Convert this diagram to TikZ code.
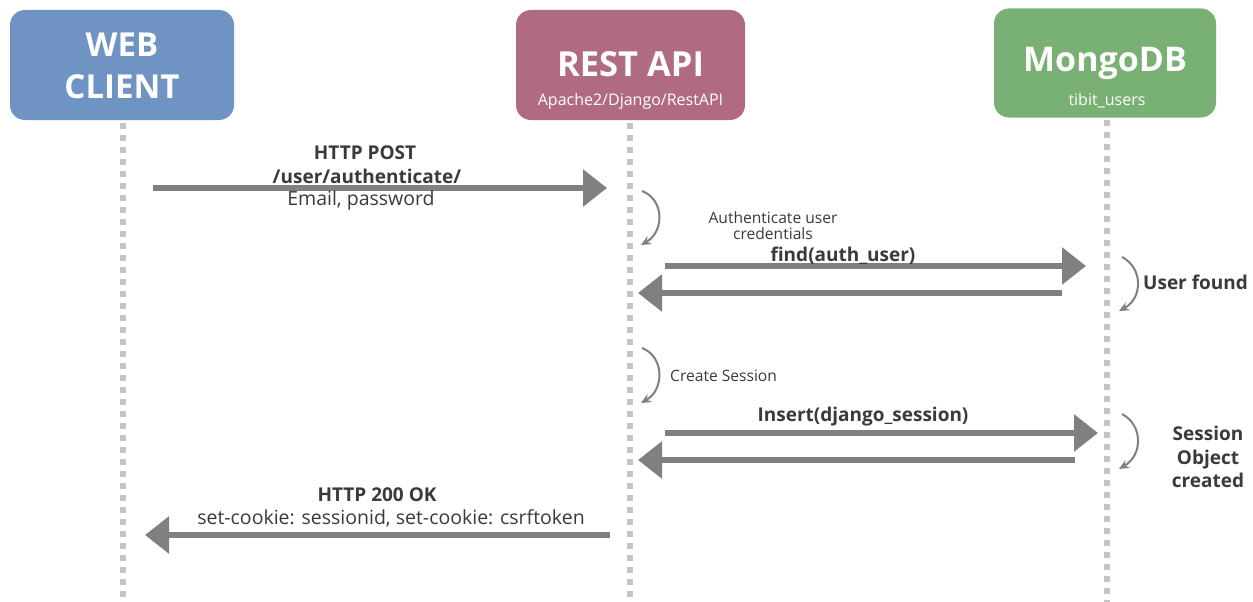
\documentclass[tikz,border=0pt]{standalone}
\usepackage{fontspec}
\setmainfont{Open Sans}
\usetikzlibrary{arrows.meta}
\definecolor{webblue}{HTML}{6F93C3}
\definecolor{restred}{HTML}{B06B83}
\definecolor{mongogreen}{HTML}{79B073}
\definecolor{arrowgray}{HTML}{808080}
\definecolor{linegray}{HTML}{C4C4C4}
\definecolor{textgray}{HTML}{3A3A3A}
\begin{document}
\begin{tikzpicture}[x=1pt,y=-1pt,
 actor/.style={rounded corners=15pt, minimum width=224pt, minimum height=110pt, inner sep=0pt, draw=none},
 lifeline/.style={linegray, line width=6pt, dash pattern=on 6pt off 6pt},
 msg/.style={arrowgray, line width=6pt, -{Triangle[length=24pt,width=36pt]}},
 selfmsg/.style={arrowgray, line width=2pt, -{Stealth[length=10pt,width=9pt]}},
 title/.style={text=white, font=\bfseries\fontsize{33}{42}\selectfont, align=center, inner sep=0pt},
 subtitle/.style={text=white, font=\fontsize{16}{18}\selectfont, inner sep=0pt},
 lbl/.style={text=textgray, font=\bfseries\fontsize{19}{23.5}\selectfont, inner sep=0pt, align=center},
 note/.style={text=textgray, font=\fontsize{19.5}{22}\selectfont, inner sep=0pt},
 smallnote/.style={text=textgray, font=\fontsize{15.6}{20}\selectfont, inner sep=0pt, align=center},
]
\useasboundingbox (0,0) rectangle (1253,602);
\fill[white] (0,0) rectangle (1253,602);

% actors
\node[actor, fill=webblue] (web) at (122,65) {};
\node[actor, fill=restred, minimum width=229pt] (rest) at (630.5,65) {};
\node[actor, fill=mongogreen, minimum width=222pt, minimum height=109pt] (mongo) at (1105,63) {};
\node[title] (webt) at (122,66) {WEB\\CLIENT};
\node[title, font=\bfseries\fontsize{34.5}{40}\selectfont] (restt) at (630.5,64) {REST API};
\node[subtitle] (rests) at (630.5,101) {Apache2/Django/RestAPI};
\node[title, font=\bfseries\fontsize{34}{40}\selectfont] (mongot) at (1105,63) {MongoDB};
\node[subtitle] (mongos) at (1107,101) {tibit\_users};

% lifelines
\coordinate (webtop) at (123,123);
\coordinate (webend) at (123,602);
\coordinate (resttop) at (630,123);
\coordinate (restend) at (630,602);
\coordinate (mongotop) at (1107,120);
\coordinate (mongoend) at (1107,602);
\draw[lifeline] (webtop) -- (webend);
\draw[lifeline] (resttop) -- (restend);
\draw[lifeline] (mongotop) -- (mongoend);

% 1 HTTP POST
\coordinate (m1s) at (153,188);
\coordinate (m1e) at (607,188);
\draw[msg] (m1s) -- (m1e);
\node[lbl] (m1a) at (365,153) {HTTP POST};
\node[lbl] (m1b) at (367,176) {/user/authenticate/};
\node[note] (m1c) at (361,200) {Email, password};

% self: authenticate
\coordinate (s1s) at (642,191);
\coordinate (s1e) at (641,245);
\draw[selfmsg] (s1s) .. controls (665,200) and (664,232) .. (s1e);
\node[smallnote] (s1l) at (773,226) {Authenticate user\\[-4pt]credentials};

% find
\coordinate (m2s) at (665,266);
\coordinate (m2e) at (1086,266);
\draw[msg] (m2s) -- (m2e);
\node[lbl] (m2l) at (843,256) {find(auth\_user)};
\coordinate (m3s) at (1062,293);
\coordinate (m3e) at (638,293);
\draw[msg] (m3s) -- (m3e);

% self: user found
\coordinate (s2s) at (1122,257);
\coordinate (s2e) at (1119,311);
\draw[selfmsg] (s2s) .. controls (1143,268) and (1143,298) .. (s2e);
\node[lbl, anchor=west] (s2l) at (1143,282) {User found};

% self: create session
\coordinate (s3s) at (642,348);
\coordinate (s3e) at (641,403);
\draw[selfmsg] (s3s) .. controls (665,357) and (664,390) .. (s3e);
\node[smallnote, anchor=west] (s3l) at (670,376) {Create Session};

% insert
\coordinate (m4s) at (665,433);
\coordinate (m4e) at (1098,433);
\draw[msg] (m4s) -- (m4e);
\node[lbl] (m4l) at (863,417) {Insert(django\_session)};
\coordinate (m5s) at (1075,460);
\coordinate (m5e) at (638,460);
\draw[msg] (m5s) -- (m5e);

% self: session object created
\coordinate (s4s) at (1122,414);
\coordinate (s4e) at (1119,469);
\draw[selfmsg] (s4s) .. controls (1143,425) and (1143,455) .. (s4e);
\node[lbl] (s4l) at (1208,457) {Session\\Object\\created};

% HTTP 200
\coordinate (m6s) at (610,535);
\coordinate (m6e) at (145,535);
\draw[msg] (m6s) -- (m6e);
\node[lbl] (m6a) at (377,495) {HTTP 200 OK};
\node[note] (m6b) at (391,518) {set-cookie: sessionid, set-cookie: csrftoken};
\end{tikzpicture}
\end{document}
